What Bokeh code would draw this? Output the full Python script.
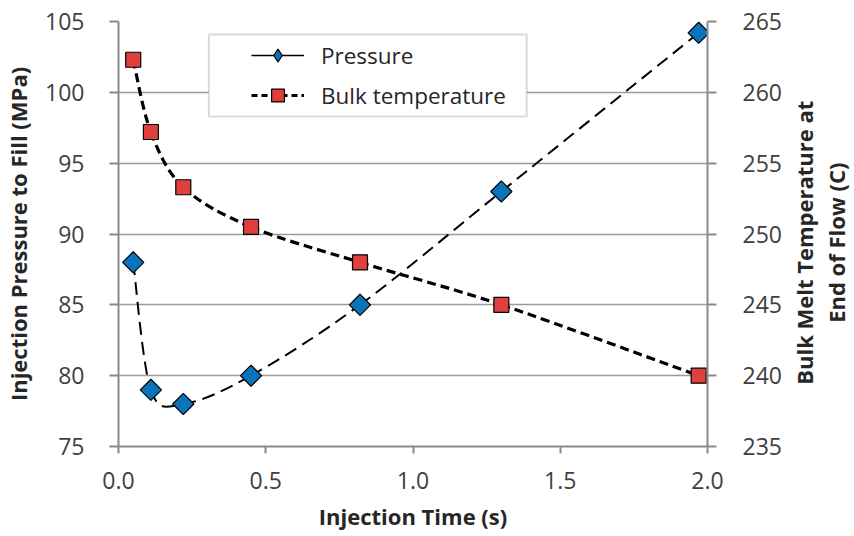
import math
from bokeh.plotting import figure
from bokeh.layouts import row
from bokeh.core.properties import value
from bokeh.models import (Range1d, LinearAxis, FixedTicker, Legend, LegendItem,
                          BoxAnnotation, NumeralTickFormatter, Grid)
from bokeh.embed import file_html
from bokeh.resources import INLINE

# ---------------- data ----------------
time_s = [0.05, 0.11, 0.22, 0.45, 0.82, 1.30, 1.97]
pressure_mpa = [88.0, 79.0, 78.0, 80.0, 85.0, 93.0, 104.2]
bulk_temp_c = [262.3, 257.2, 253.3, 250.5, 248.0, 245.0, 240.0]

x_ticks = [0.0, 0.5, 1.0, 1.5, 2.0]
y_ticks = [75, 80, 85, 90, 95, 100, 105]
y2_ticks = [235, 240, 245, 250, 255, 260, 265]

x_title = "Injection Time (s)"
y_title = "Injection Pressure to Fill (MPa)"
y2_title_lines = ["Bulk Melt Temperature at", "End of Flow (C)"]

FONT = "Open Sans"
TICK_COLOR = "#404040"
TITLE_COLOR = "#262626"
GRID = "#9a9a9a"
AXIS = "#8a8a8a"

W, H = 854, 536
SIDE_W = 70                      # strip holding the right-hand title
MAIN_W = W - SIDE_W
LEFT, TOP, BOTTOM = 114, 21, 90
FRAME_RIGHT = 707
RIGHT = MAIN_W - FRAME_RIGHT

p = figure(width=MAIN_W, height=H, output_backend="svg", toolbar_location=None,
           x_range=Range1d(x_ticks[0], x_ticks[-1]),
           y_range=Range1d(y_ticks[0], y_ticks[-1]),
           min_border_left=LEFT, min_border_right=RIGHT,
           min_border_top=TOP, min_border_bottom=BOTTOM,
           x_axis_type=None, y_axis_type=None)
p.extra_y_ranges = {"temp": Range1d(y2_ticks[0], y2_ticks[-1])}
p.outline_line_color = None
p.background_fill_color = "white"
p.border_fill_color = "white"


def style_axis(ax, tick_out):
    ax.axis_line_color = AXIS
    ax.axis_line_width = 2
    ax.major_tick_line_color = AXIS
    ax.major_tick_line_width = 2
    ax.major_tick_in = 0
    ax.major_tick_out = tick_out
    ax.minor_tick_line_color = None
    ax.major_label_text_font = FONT
    ax.major_label_text_font_size = "23px"
    ax.major_label_text_color = TICK_COLOR
    ax.axis_label_text_font = FONT
    ax.axis_label_text_font_size = "22px"
    ax.axis_label_text_font_style = "bold"
    ax.axis_label_text_color = TITLE_COLOR


xaxis = LinearAxis(ticker=FixedTicker(ticks=x_ticks),
                   formatter=NumeralTickFormatter(format="0.0"),
                   axis_label=x_title)
style_axis(xaxis, 7)
xaxis.major_label_standoff = 18
xaxis.axis_label_standoff = 9
p.add_layout(xaxis, "below")

yaxis = LinearAxis(ticker=FixedTicker(ticks=y_ticks), axis_label=y_title)
style_axis(yaxis, 9)
yaxis.major_label_standoff = 25
yaxis.axis_label_standoff = 9
p.add_layout(yaxis, "left")

y2axis = LinearAxis(y_range_name="temp", ticker=FixedTicker(ticks=y2_ticks))
style_axis(y2axis, 9)
y2axis.major_label_standoff = 26
p.add_layout(y2axis, "right")

# horizontal gridlines
p.add_layout(Grid(dimension=1, ticker=yaxis.ticker, grid_line_color=GRID,
                  grid_line_width=1.5))


# ---------------- smooth curves (Excel-like) via Bezier segments ----------------
def bezier_segments(xs, ys):
    n = len(xs)
    out = {k: [] for k in ("x0", "y0", "x1", "y1", "cx0", "cy0", "cx1", "cy1")}
    for i in range(n - 1):
        im = max(i - 1, 0)
        ip = min(i + 2, n - 1)
        out["x0"].append(xs[i]); out["y0"].append(ys[i])
        out["x1"].append(xs[i + 1]); out["y1"].append(ys[i + 1])
        out["cx0"].append(xs[i] + (xs[i + 1] - xs[im]) / 6.0)
        out["cy0"].append(ys[i] + (ys[i + 1] - ys[im]) / 6.0)
        out["cx1"].append(xs[i + 1] - (xs[ip] - xs[i]) / 6.0)
        out["cy1"].append(ys[i + 1] - (ys[ip] - ys[i]) / 6.0)
    return out


bp = bezier_segments(time_s, pressure_mpa)
p.bezier(**bp, line_color="black", line_width=2, line_dash="13 7")

bt = bezier_segments(time_s, bulk_temp_c)
p.bezier(**bt, line_color="black", line_width=3.2, line_dash="9 5",
         y_range_name="temp")

P_BLUE = "#0a74bb"
T_RED = "#e0403c"
p.scatter(time_s, pressure_mpa, marker="square", size=15, angle=math.pi / 4,
          fill_color=P_BLUE, line_color="black", line_width=1.2)
p.scatter(time_s, bulk_temp_c, marker="square", size=15,
          fill_color=T_RED, line_color="black", line_width=1.2,
          y_range_name="temp")

# legend-only proxies (hidden in the plot, drawn in the legend)
pl = p.line(time_s, pressure_mpa, line_color="black", line_width=1.5, visible=False)
pm = p.scatter(time_s, pressure_mpa, marker="diamond", fill_color=P_BLUE,
               line_color="black", line_width=1.2, visible=False)
tl = p.line(time_s, bulk_temp_c, line_color="black", line_width=3.2,
            line_dash="6 4", y_range_name="temp", visible=False)
tm = p.scatter(time_s, bulk_temp_c, marker="square", fill_color=T_RED,
               line_color="black", line_width=1.2, y_range_name="temp", visible=False)

# legend frame
px_per_x = (FRAME_RIGHT - LEFT) / (x_ticks[-1] - x_ticks[0])
px_per_y = (H - TOP - BOTTOM) / (y_ticks[-1] - y_ticks[0])
box_l, box_r, box_t, box_b = 205, 525, 34, 116
p.add_layout(BoxAnnotation(
    left=x_ticks[0] + (box_l - LEFT) / px_per_x,
    right=x_ticks[0] + (box_r - LEFT) / px_per_x,
    top=y_ticks[-1] - (box_t - TOP) / px_per_y,
    bottom=y_ticks[-1] - (box_b - TOP) / px_per_y,
    fill_color="white", fill_alpha=1.0,
    line_color="#888888", line_width=2))

legend = Legend(items=[LegendItem(label="Pressure", renderers=[pl, pm]),
                       LegendItem(label="Bulk temperature", renderers=[tl, tm])],
                location=(133, 335), padding=0, margin=0, spacing=8,
                glyph_width=53, glyph_height=32, label_standoff=17,
                label_text_font=FONT, label_text_font_size="22.5px",
                label_text_color=TITLE_COLOR, click_policy="none",
                inactive_fill_alpha=0,
                border_line_color=None, background_fill_alpha=0)
p.add_layout(legend, "center")

# ---------------- right-hand two-line title strip ----------------
# strip uses a pixel-sized coordinate system (0..SIDE_W, 0..H)
side = figure(width=SIDE_W, height=H, output_backend="svg", toolbar_location=None,
              x_range=Range1d(0, SIDE_W), y_range=Range1d(0, H),
              min_border=0, x_axis_type=None, y_axis_type=None)
side.outline_line_color = None
side.grid.visible = False
side.background_fill_color = "white"
side.border_fill_color = "white"
side.text(x=[19 + 32 * i for i in range(len(y2_title_lines))],
          y=[H - 279] * len(y2_title_lines),
          text=y2_title_lines, angle=math.pi / 2,
          text_align="center", text_baseline="middle",
          text_font=value(FONT), text_font_size="22px", text_font_style="bold",
          text_color=TITLE_COLOR)

layout = row(p, side, spacing=0)
open("out.html", "w").write(file_html(layout, INLINE))
